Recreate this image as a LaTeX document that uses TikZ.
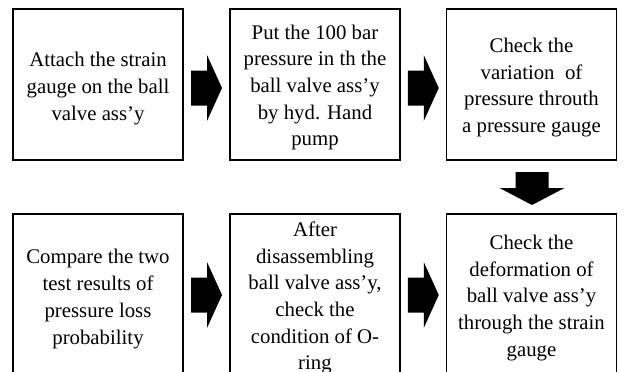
\documentclass[tikz,border=0pt]{standalone}
\usepackage{fontspec}
\setmainfont{Liberation Serif}
\usetikzlibrary{calc}
\begin{document}
\begin{tikzpicture}[x=1pt,y=-1pt,
  stepbox/.style={draw=black, line width=1.6pt, rectangle, minimum width=170pt, inner sep=0pt},
  steptext/.style={inner sep=0pt, align=center, font=\fontsize{20.8}{26.7}\selectfont},
  blockarrow/.style={fill=black, draw=none}]
\clip (0,0) rectangle (625,372);
\fill[white] (0,0) rectangle (625,372);
% top row
\node[stepbox, minimum height=151pt] (b1) at (98,84.5) {};
\node[stepbox, minimum height=151pt] (b2) at (315,84.5) {};
\node[stepbox, minimum height=151pt] (b3) at (531.5,84.5) {};
\node[steptext] (t1) at ($(b1.center)+(0,4)$) {Attach the strain\\gauge on the ball\\valve ass'y};
\node[steptext] (t2) at ($(b2.center)+(0,3)$) {Put the 100 bar\\pressure in th the\\ball valve ass'y\\by hyd. Hand\\pump};
\node[steptext] (t3) at ($(b3.center)+(0,3)$) {Check the\\variation\ \ of\\pressure throuth\\a pressure gauge};
% bottom row
\node[stepbox, minimum height=166pt] (b4) at (98,297) {};
\node[stepbox, minimum height=166pt] (b5) at (315,297) {};
\node[stepbox, minimum height=166pt] (b6) at (531.5,297) {};
\node[steptext] (t4) at ($(b4.center)+(0,2)$) {Compare the two\\test results of\\pressure loss\\probability};
\node[steptext] (t5) at ($(b5.center)+(0,1)$) {After\\disassembling\\ball valve ass'y,\\check the\\condition of O-\\ring};
\node[steptext] (t6) at ($(b6.center)+(0,1)$) {Check the\\deformation of\\ball valve ass'y\\through the strain\\gauge};
% arrow anchor coordinates
\coordinate (a12) at ($($(b1.east)!0.5!(b2.west)$)+(0,3.5)$);
\coordinate (a23) at ($($(b2.east)!0.5!(b3.west)$)+(0,3.5)$);
\coordinate (a36) at ($($(b3.south)!0.5!(b6.north)$)+(0.5,1.5)$);
\coordinate (a54) at ($($(b4.east)!0.5!(b5.west)$)+(0,-2)$);
\coordinate (a65) at ($($(b5.east)!0.5!(b6.west)$)+(0,-2)$);
\foreach \c in {a12,a23,a54,a65}{
  \fill[blockarrow] ($(\c)+(-15.5,-17.5)$) -- ($(\c)+(0.5,-17.5)$) -- ($(\c)+(0.5,-33)$)
    -- ($(\c)+(15.5,0)$) -- ($(\c)+(0.5,33)$) -- ($(\c)+(0.5,17.5)$) -- ($(\c)+(-15.5,17.5)$) -- cycle;
}
\fill[blockarrow] ($(a36)+(-16.5,-16.5)$) -- ($(a36)+(16.5,-16.5)$) -- ($(a36)+(16.5,-0.5)$)
  -- ($(a36)+(32.5,-0.5)$) -- ($(a36)+(0,16.5)$) -- ($(a36)+(-32.5,-0.5)$) -- ($(a36)+(-16.5,-0.5)$) -- cycle;
\end{tikzpicture}
\end{document}
